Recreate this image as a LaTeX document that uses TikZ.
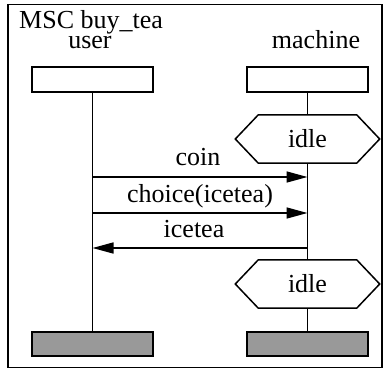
\documentclass[tikz,border=0pt]{standalone}
\usepackage{fontspec}
\setmainfont{Liberation Serif}
\usetikzlibrary{arrows.meta}
\begin{document}
\begin{tikzpicture}[x=1pt, y=-1pt,
  every node/.style={font=\fontsize{26}{30}\selectfont, inner sep=0pt},
  line/.style={line width=1.5pt},
  headbox/.style={draw, line width=1.5pt, minimum width=121pt, minimum height=25pt},
  endbox/.style={draw, line width=1.5pt, fill=black!40, minimum width=121pt, minimum height=24pt},
  condbody/.style={minimum width=98pt, minimum height=48pt},
  msg/.style={line width=1.5pt, -{Triangle[length=21pt, width=11pt]}},
  lbl/.style={anchor=base}
]
\useasboundingbox (0,0) rectangle (384,370);
% frame and title
\draw[line] (8,4.5) rectangle (382,367.5);
\node[anchor=base west] (title) at (19,28) {MSC buy\_tea};
% instance names
\node[lbl] (username) at (90,48.5) {user};
\node[lbl] (machinename) at (316,48.5) {machine};
% instance heads
\node[headbox] (userhead) at (92.5,79.5) {};
\node[headbox] (machinehead) at (307.5,79.5) {};
% instance ends
\node[endbox] (userend) at (92.5,344) {};
\node[endbox] (machineend) at (307.5,344) {};
% conditions on the machine instance
\node[condbody] (idleA) at (307.5,139) {idle};
\node[condbody] (idleB) at (307.5,284) {idle};
\foreach \c in {idleA,idleB}{
  \draw[line, line join=miter] (\c.north west) -- (\c.north east) -- ([xshift=23pt]\c.east)
    -- (\c.south east) -- (\c.south west) -- ([xshift=-23pt]\c.west) -- cycle;
}
% lifelines
\draw[line] (userhead.south) -- (userend.north);
\draw[line] (machinehead.south) -- (idleA.north);
\draw[line] (idleA.south) -- (idleB.north);
\draw[line] (idleB.south) -- (machineend.north);
% messages
\coordinate (uc) at (userhead.south |- 0,177);
\coordinate (mc) at (machinehead.south |- 0,177);
\coordinate (uh) at (userhead.south |- 0,213);
\coordinate (mh) at (machinehead.south |- 0,213);
\coordinate (ui) at (userhead.south |- 0,248);
\coordinate (mi) at (machinehead.south |- 0,248);
\draw[msg] (uc) -- (mc);
\draw[msg] (uh) -- (mh);
\draw[msg] (mi) -- (ui);
\node[lbl] (coinlbl) at (198,165) {coin};
\node[lbl] (choicelbl) at (200,202) {choice(icetea)};
\node[lbl] (icetealbl) at (194,237) {icetea};
\end{tikzpicture}
\end{document}
